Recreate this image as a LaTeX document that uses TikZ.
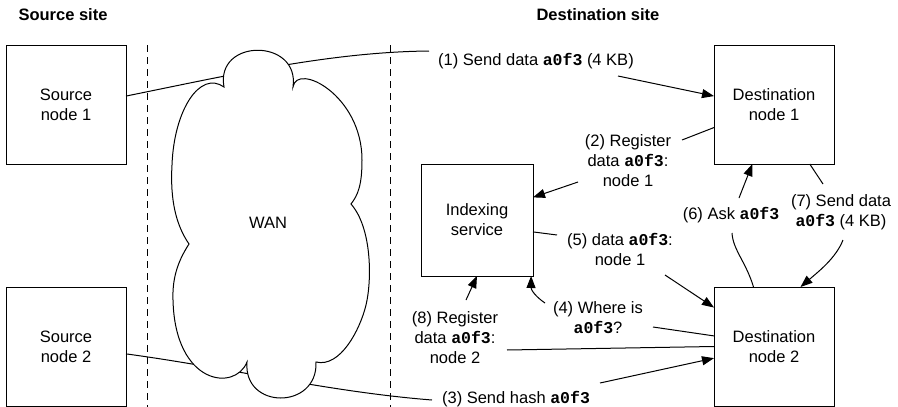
\documentclass[tikz,border=0pt]{standalone}
\usepackage{fontspec}
\setmainfont{Liberation Sans}
\newfontfamily\codefont{Liberation Mono}
\usetikzlibrary{arrows.meta}
\newcommand\hcode[1]{{\codefont\bfseries #1}}

\begin{document}
\begin{tikzpicture}[x=1pt,y=-1pt,
  every node/.style={font=\fontsize{16.5}{20}\selectfont},
  box/.style={draw,line width=1pt,minimum width=120pt,minimum height=119pt,
              inner sep=0pt,outer sep=0pt,align=center},
  lbl/.style={align=center,inner sep=0pt},
  conn/.style={line width=1pt},
  arr/.style={line width=1pt,-{Triangle[length=12pt,width=9pt]}},
  sitesep/.style={line width=1pt,dash pattern=on 7pt off 5pt},
]
\useasboundingbox (0,0) rectangle (898,407);

% site titles
\node[lbl,font=\fontsize{16.5}{20}\selectfont\bfseries] (tsrc) at (63,15) {Source site};
\node[lbl,font=\fontsize{16.5}{20}\selectfont\bfseries] (tdst) at (598,15) {Destination site};

% boundaries of the WAN
\draw[sitesep] (147,45) -- (147,407);
\draw[sitesep] (390,45) -- (390,407);

% machines
\node[box] (src1) at (66,104.5) {Source\\node 1};
\node[box] (src2) at (66,346.5) {Source\\node 2};
\node[box] (dst1) at (774,104.5) {Destination\\node 1};
\node[box] (dst2) at (774,346.5) {Destination\\node 2};
\node[box,minimum width=112pt,minimum height=112pt] (idx) at (477,220) {Indexing\\service};

% message labels
\node[lbl] (l1) at (536,61) {(1) Send data \hcode{a0f3} (4 KB)};
\node[lbl] (l2) at (628,161) {(2) Register\\data \hcode{a0f3}:\\node 1};
\node[lbl] (l3) at (516,399) {(3) Send hash \hcode{a0f3}};
\node[lbl] (l4) at (598,318) {(4) Where is\\\hcode{a0f3}?};
\node[lbl] (l5) at (620,249) {(5) data \hcode{a0f3}:\\node 1};
\node[lbl] (l6) at (731,215) {(6) Ask \hcode{a0f3}};
\node[lbl] (l7) at (841,212) {(7) Send data\\\hcode{a0f3} (4 KB)};
\node[lbl] (l8) at (455,338) {(8) Register\\data \hcode{a0f3}:\\node 2};

% loose ends of the connectors beside the labels
\coordinate (c1a) at (429,51);  \coordinate (c1b) at (618,76);
\coordinate (c2a) at (682,140); \coordinate (c2b) at (578,182);
\coordinate (c3a) at (432,400); \coordinate (c3b) at (600,383);
\coordinate (c4a) at (653,327); \coordinate (c4b) at (545,303);
\coordinate (c5a) at (557,235); \coordinate (c5b) at (665,275);
\coordinate (c6a) at (732,233); \coordinate (c6b) at (739,198);
\coordinate (c7a) at (823,184); \coordinate (c7b) at (843,240);
\coordinate (c8a) at (507,350); \coordinate (c8b) at (466,300);

% transfers across the WAN (drawn under the cloud)
\draw[conn] (src1.8) .. controls (230,75) and (330,52) .. (c1a);
\draw[conn] (src2.-7) .. controls (230,368) and (330,392) .. (c3a);

% the WAN cloud
\draw[line width=1pt,fill=white]
  (224,87) .. controls (215,38) and (300,38) .. (293,87)
  .. controls (297,62) and (362,95) .. (362,160)
  .. controls (362,185) and (358,195) .. (351,204)
  .. controls (372,228) and (372,280) .. (366,305)
  .. controls (360,330) and (340,368) .. (316,362)
  .. controls (318,410) and (243,410) .. (247,362)
  .. controls (235,392) and (175,385) .. (173,300)
  .. controls (172,275) and (180,258) .. (189,244)
  .. controls (176,225) and (170,200) .. (172,165)
  .. controls (174,110) and (200,70) .. cycle;
\node[lbl] (wan) at (268,223) {WAN};

% message flow
\draw[arr] (c1b) -- (dst1.172);
\draw[conn] (dst1.201) -- (c2a);
\draw[arr] (c2b) -- (idx.22);
\draw[arr] (c3b) -- (dst2.191);
\draw[conn] (dst2.170) -- (c4a);
\draw[arr] (c4b) .. controls (536,297) and (531,290) .. (idx.-46);
\draw[conn] (idx.-12) -- (c5a);
\draw[arr] (c5b) -- (dst2.147);
\draw[conn] (dst2.109) .. controls (746,262) and (733,250) .. (c6a);
\draw[arr] (c6b) -- (dst1.250);
\draw[conn] (dst1.-59.5) -- (c7a);
\draw[arr] (c7b) .. controls (836,258) and (818,272) .. (dst2.66);
\draw[conn] (dst2.west) -- (c8a);
\draw[arr] (c8b) -- (idx.south);
\end{tikzpicture}
\end{document}
